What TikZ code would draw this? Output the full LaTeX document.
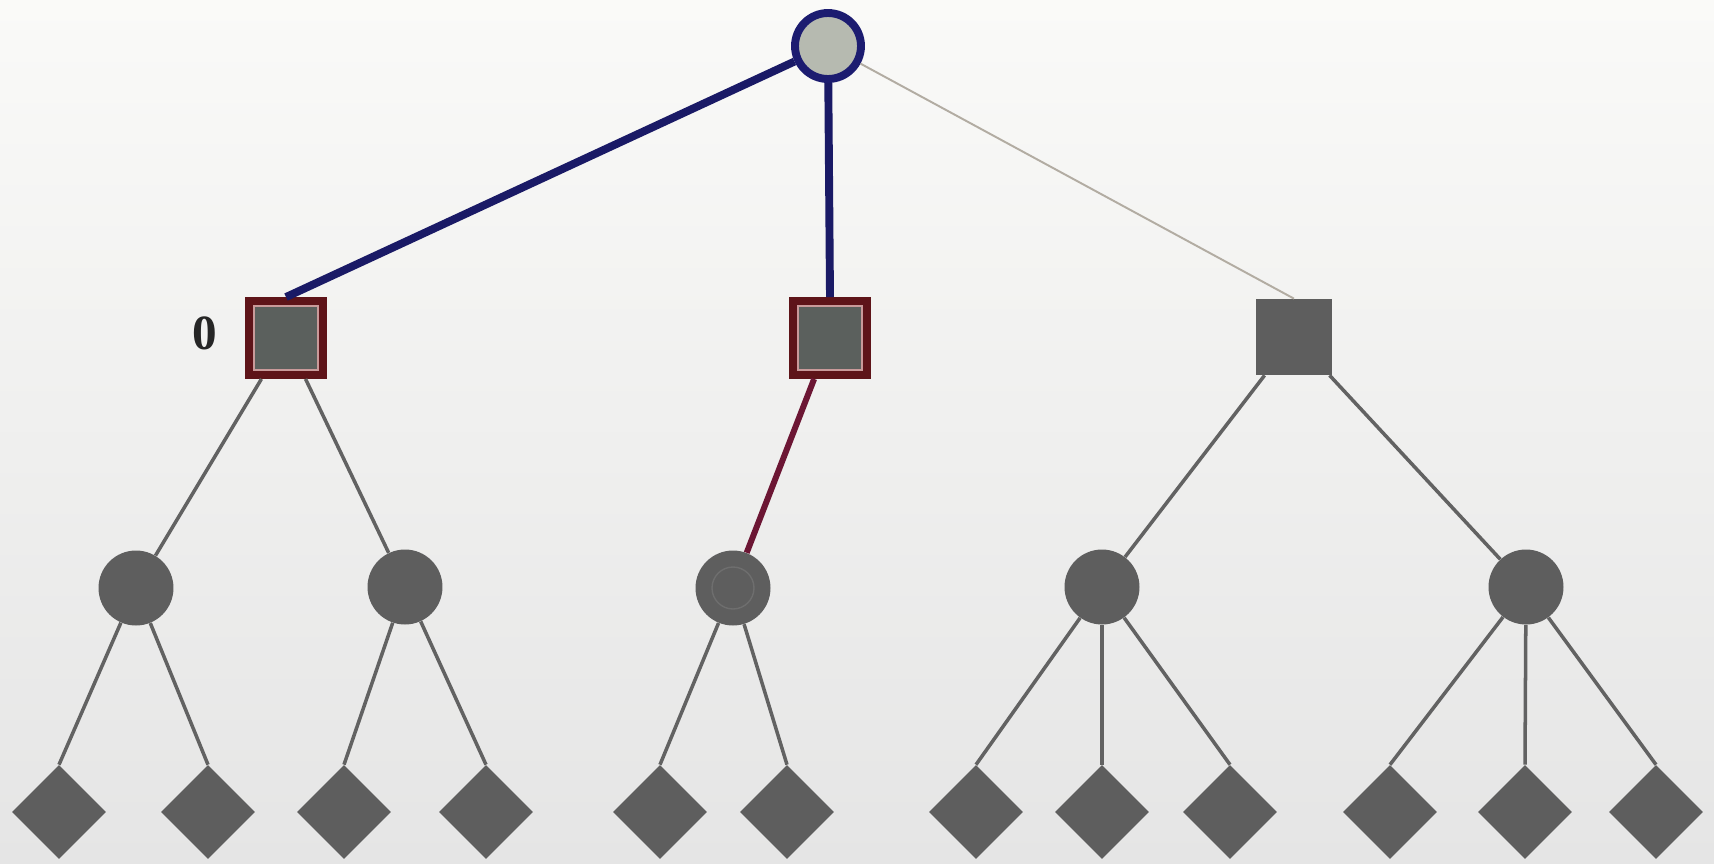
\documentclass[tikz,border=0pt]{standalone}
\usepackage{fontspec}
\setmainfont{Liberation Serif}
\usetikzlibrary{shapes.geometric}
\definecolor{navy}{HTML}{1A1A66}
\definecolor{ringc}{HTML}{1C1C70}
\definecolor{rootfill}{HTML}{B6BAB0}
\definecolor{frame}{HTML}{5E1419}
\definecolor{pinkc}{HTML}{C99A9A}
\definecolor{sqfill}{HTML}{5B605D}
\definecolor{rededge}{HTML}{6C1634}
\definecolor{nodegray}{HTML}{5E5E5E}
\definecolor{edgegray}{HTML}{626262}
\definecolor{thinedge}{HTML}{B2ACA2}
\definecolor{bgtop}{HTML}{FAFAF8}
\definecolor{bgmid}{HTML}{E8E8E8}
\definecolor{bgbot}{HTML}{E5E5E5}
\tikzset{
  rootnode/.style={circle, draw=ringc, line width=4.5pt, fill=rootfill, minimum size=1.32cm, inner sep=0pt},
  selsq/.style={rectangle, draw=frame, line width=4.5pt, fill=sqfill, minimum size=1.48cm, inner sep=0pt,
    path picture={\draw[pinkc, line width=1.1pt]
      ([shift={(2.8pt,2.8pt)}]path picture bounding box.south west) rectangle
      ([shift={(-2.8pt,-2.8pt)}]path picture bounding box.north east);}},
  plainsq/.style={rectangle, fill=nodegray, minimum size=1.52cm, inner sep=0pt},
  chance/.style={circle, fill=nodegray, minimum size=1.50cm, inner sep=0pt},
  markedchance/.style={chance, path picture={\draw[nodegray!90!white, line width=0.8pt]
      (path picture bounding box.center) circle[radius=0.42cm];}},
  leaf/.style={diamond, fill=nodegray, minimum width=1.88cm, minimum height=1.88cm, inner sep=0pt, aspect=1},
  navyedge/.style={draw=navy, line width=4.5pt},
  redge/.style={draw=rededge, line width=3.4pt},
  gedge/.style={draw=edgegray, line width=2pt},
  tedge/.style={draw=thinedge, line width=1.1pt},
  lbl/.style={font=\fontsize{28}{28}\selectfont\bfseries, text=black!85, inner sep=0pt}
}
\begin{document}
\begin{tikzpicture}[x=0.02cm,y=-0.02cm]
\useasboundingbox (0,0) rectangle (1714,863);
\shade[top color=bgtop, middle color=bgmid, bottom color=bgbot] (0,0) rectangle (1714,863);

\node[rootnode] (r) at (828,46) {};
\node[selsq] (s1) at (286,338) {};
\node[selsq] (s2) at (830,338) {};
\node[plainsq] (s3) at (1294,337) {};
\node[lbl] (z) at (205,333) {0};

\node[chance] (c1) at (136,588) {};
\node[chance] (c2) at (405,587) {};
\node[markedchance] (c3) at (733,588) {};
\node[chance] (c4) at (1102,587) {};
\node[chance] (c5) at (1526,587) {};

\foreach \i/\x in {1/59,2/208,3/344,4/486,5/660,6/787,7/976,8/1102,9/1230,10/1390,11/1525,12/1656}
  \node[leaf] (d\i) at (\x,812) {};

\draw[navyedge] (r) -- (s1.north);
\draw[navyedge] (r) -- (s2.north);
\draw[tedge] (r) -- (s3.north);
\draw[redge] (s2) -- (c3);
\draw[gedge] (s1) -- (c1);
\draw[gedge] (s1) -- (c2);
\draw[gedge] (s3) -- (c4);
\draw[gedge] (s3) -- (c5);
\draw[gedge] (c1) -- (d1.north);
\draw[gedge] (c1) -- (d2.north);
\draw[gedge] (c2) -- (d3.north);
\draw[gedge] (c2) -- (d4.north);
\draw[gedge] (c3) -- (d5.north);
\draw[gedge] (c3) -- (d6.north);
\draw[gedge] (c4) -- (d7.north);
\draw[gedge] (c4) -- (d8.north);
\draw[gedge] (c4) -- (d9.north);
\draw[gedge] (c5) -- (d10.north);
\draw[gedge] (c5) -- (d11.north);
\draw[gedge] (c5) -- (d12.north);
\end{tikzpicture}
\end{document}
